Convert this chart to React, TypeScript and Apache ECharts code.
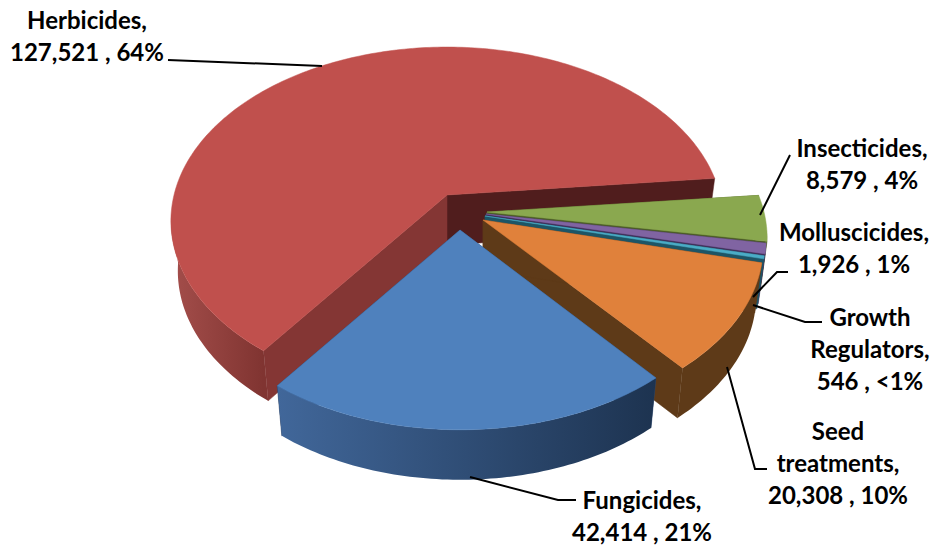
import React, { useEffect, useRef } from "react";
import * as echarts from "echarts";

const categories = ["Herbicides", "Fungicides", "Seed treatments", "Growth Regulators", "Molluscicides", "Insecticides"];
const values = [127521, 42414, 20308, 546, 1926, 8579];
const percentLabels = ["64%", "21%", "10%", "<1%", "1%", "4%"];

// paint order, back to front
const drawOrder = [0, 5, 4, 3, 2, 1];
const topColors = ["#c0504d", "#4f81bd", "#e0813b", "#4bacc6", "#8064a2", "#8aa84f"];
const startCutColors = ["#501d1d", "#24395a", "#5e3a18", "#1d5566", "#40305a", "#4c5c28"];
const endCutColors = ["#843634", "#2e4a72", "#5e3a18", "#1d5566", "#40305a", "#4c5c28"];
const wallStops = [
  ["#a44e4b", "#803431"],
  ["#41679a", "#1d3350"],
  ["#5e3a18", "#5e3a18"],
  ["#2a7f96", "#2a7f96"],
  ["#4f3c6e", "#4f3c6e"],
  ["#5f7433", "#5f7433"],
];

// exploded apex of each slice, horizontal radius
const apexX = [447, 460, 483, 485, 486, 487];
const apexY = [195, 230, 220, 216, 214, 212];
const radiusX = [273, 272, 277, 277, 277, 277];
const RY = 170;
const PERSPECTIVE = 0.149;
const DEPTH = 50;
const BOTTOM_SCALE = 0.975;
const START_ANGLE = -5.7;

const labelX = [87, 642, 838, 870, 854, 862];
const labelY = [3, 483, 414, 300, 215, 131];
const leaders: number[][][] = [
  [[168, 60], [322, 66]],
  [[470, 477], [558, 500], [576, 500]],
  [[727, 367], [755, 469], [767, 469]],
  [[753, 305], [805, 322], [822, 322]],
  [[753, 297], [777, 272], [788, 272]],
  [[760, 215], [790, 155]],
];

const total = values.reduce((a, b) => a + b, 0);
const startAngles: number[] = [];
const endAngles: number[] = [];
values.reduce((angle, v, i) => {
  const next = angle - (v / total) * 360;
  startAngles[i] = angle;
  endAngles[i] = next;
  return next;
}, START_ANGLE);

function project(i: number, deg: number): number[] {
  const t = (deg * Math.PI) / 180;
  const d = 1 - PERSPECTIVE * Math.sin(t);
  return [apexX[i] + (radiusX[i] * Math.cos(t)) / d, apexY[i] + (RY * Math.sin(t)) / d];
}

function lower(i: number, p: number[]): number[] {
  return [apexX[i] + (p[0] - apexX[i]) * BOTTOM_SCALE, p[1] + DEPTH];
}

function renderSlice(_params: any, api: any) {
  const i = api.value(0);
  const a0 = endAngles[i];
  const a1 = startAngles[i];
  const steps = Math.max(2, Math.ceil(a1 - a0));
  const arc: number[][] = [];
  for (let s = 0; s <= steps; s++) arc.push(project(i, a0 + ((a1 - a0) * s) / steps));
  const apex = [apexX[i], apexY[i]];
  const apexLow = lower(i, apex);

  const front: number[][] = [];
  for (let s = 0; s <= steps; s++) {
    const a = a0 + ((a1 - a0) * s) / steps;
    if (Math.sin((a * Math.PI) / 180) > 0.1) front.push(arc[s]);
  }
  const children: any[] = [];
  const poly = (points: number[][], fill: any, stroke?: string) => ({
    type: "polygon",
    shape: { points },
    style: { fill, stroke: stroke || (typeof fill === "string" ? fill : "none"), lineWidth: 0.5 },
  });
  const first = arc[0];
  const last = arc[arc.length - 1];
  children.push(poly([apex, last, lower(i, last), apexLow], startCutColors[i]));
  children.push(poly([apex, first, lower(i, first), apexLow], endCutColors[i]));
  if (front.length > 1) {
    const xs = front.map((p) => p[0]);
    const grad = new echarts.graphic.LinearGradient(
      Math.min(...xs), 0, Math.max(...xs), 0,
      [
        { offset: 0, color: wallStops[i][0] },
        { offset: 1, color: wallStops[i][1] },
      ],
      true
    );
    children.push(poly([...front, ...front.map((p) => lower(i, p)).reverse()], grad));
  }
  children.push(poly([apex, ...arc], topColors[i]));
  return { type: "group", children };
}

function labelText(i: number): string {
  return `${categories[i].replace(" ", "\n")},\n${values[i].toLocaleString("en-US")} , ${percentLabels[i]}`;
}

export default function App() {
  const ref = useRef<HTMLDivElement>(null);
  useEffect(() => {
    const chart = echarts.init(ref.current!, undefined, { renderer: "svg" });
    chart.setOption({
      animation: false,
      backgroundColor: "#ffffff",
      series: [
        {
          type: "custom",
          coordinateSystem: "none",
          renderItem: renderSlice,
          silent: true,
          data: drawOrder.map((i) => ({ name: categories[i], value: [i, values[i]] })),
        },
      ],
      graphic: [
        ...leaders.map((points) => ({
          type: "polyline",
          z: 10,
          shape: { points },
          style: { stroke: "#000000", lineWidth: 2, fill: "none" },
        })),
        ...categories.map((_, i) => ({
          type: "text",
          z: 11,
          x: labelX[i],
          y: labelY[i],
          style: {
            text: labelText(i),
            fill: "#000000",
            font: 'bold 24px Lato',
            lineHeight: 32,
            align: "center",
            verticalAlign: "top",
          },
        })),
      ],
    });
    return () => chart.dispose();
  }, []);
  return <div ref={ref} style={{ position: "fixed", left: 0, top: 0, width: 933, height: 546 }} />;
}
